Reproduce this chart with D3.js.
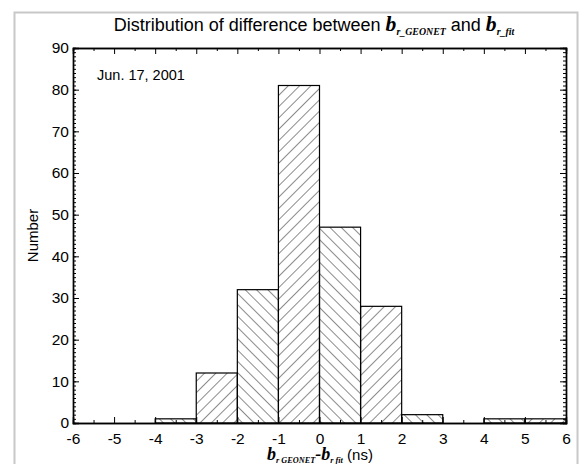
<!DOCTYPE html>
<html>
<head>
<meta charset="utf-8">
<script src="https://cdn.jsdelivr.net/npm/d3@7"></script>
<style>
  body { margin: 0; background: #fff; }
  svg { display: block; font-family: "Liberation Sans", Arial, sans-serif; }
  .axis path { stroke: #000; stroke-width: 1.4; }
  .axis line { stroke: #000; stroke-width: 1; }
  .axis text { font-size: 15.5px; fill: #000; font-family: "Liberation Sans", Arial, sans-serif; }
</style>
</head>
<body>
<svg id="chart" width="580" height="464"></svg>
<script>
// histogram bins (left edges, ns) and counts
var binStarts = [-6, -5, -4, -3, -2, -1, 0, 1, 2, 3, 4, 5];
var counts    = [ 0,  0,  1, 12, 32, 81, 47, 28,  2,  0,  1,  1];
var xTicks = [-6, -5, -4, -3, -2, -1, 0, 1, 2, 3, 4, 5, 6];
var yTicks = [0, 10, 20, 30, 40, 50, 60, 70, 80, 90];

var svg = d3.select('#chart');
var pLeft = 73, pRight = 566, pTop = 48, pBottom = 423;

// light grey frame round the figure
svg.append('rect')
  .attr('x', 14.5).attr('y', 12.5)
  .attr('width', 563).attr('height', 470)
  .attr('fill', 'none').attr('stroke', '#c8c8c8').attr('stroke-width', 2);

var x = d3.scaleLinear().domain([-6, 6]).range([pLeft, pRight]);
var y = d3.scaleLinear().domain([0, 90]).range([pBottom, pTop]);

// two hatch directions: 'up' = /, 'down' = \
var defs = svg.append('defs');
[['hatchUp', 45], ['hatchDown', -45]].forEach(function(p) {
  var pat = defs.append('pattern')
    .attr('id', p[0])
    .attr('patternUnits', 'userSpaceOnUse')
    .attr('width', 8).attr('height', 8)
    .attr('patternTransform', 'rotate(' + p[1] + ')');
  pat.append('line')
    .attr('x1', 0).attr('y1', 0).attr('x2', 0).attr('y2', 8)
    .attr('stroke', '#000').attr('stroke-width', 0.9);
});

svg.append('g').selectAll('rect')
  .data(binStarts)
  .enter().append('rect')
  .attr('x', function(d) { return x(d); })
  .attr('y', function(d, i) { return y(counts[i]); })
  .attr('width', function(d) { return x(d + 1) - x(d); })
  .attr('height', function(d, i) { return y(0) - y(counts[i]); })
  .attr('fill', function(d, i) { return i % 2 === 1 ? 'url(#hatchUp)' : 'url(#hatchDown)'; })
  .attr('stroke', '#000')
  .attr('stroke-width', function(d, i) { return counts[i] > 0 ? 1.2 : 0; });

var xMinor = d3.range(-5.5, 6, 1);
var yMinor = d3.range(0, 91, 1);
var plain = function(d) { return String(d); };

// bottom axis with labels, ticks inward
svg.append('g').attr('class', 'axis')
  .attr('transform', 'translate(0,' + pBottom + ')')
  .call(d3.axisBottom(x).tickValues(xTicks).tickSize(-6).tickPadding(10).tickFormat(plain));
svg.append('g').attr('class', 'axis')
  .attr('transform', 'translate(0,' + pBottom + ')')
  .call(d3.axisBottom(x).tickValues(xMinor).tickSize(-3).tickFormat(''));
// top axis
svg.append('g').attr('class', 'axis')
  .attr('transform', 'translate(0,' + pTop + ')')
  .call(d3.axisTop(x).tickValues(xTicks).tickSize(-6).tickFormat(''));
svg.append('g').attr('class', 'axis')
  .attr('transform', 'translate(0,' + pTop + ')')
  .call(d3.axisTop(x).tickValues(xMinor).tickSize(-3).tickFormat(''));
// left axis with labels
svg.append('g').attr('class', 'axis')
  .attr('transform', 'translate(' + pLeft + ',0)')
  .call(d3.axisLeft(y).tickValues(yTicks).tickSize(-6).tickPadding(4).tickFormat(plain));
svg.append('g').attr('class', 'axis')
  .attr('transform', 'translate(' + pLeft + ',0)')
  .call(d3.axisLeft(y).tickValues(yMinor).tickSize(-3).tickFormat(''));
// right axis
svg.append('g').attr('class', 'axis')
  .attr('transform', 'translate(' + pRight + ',0)')
  .call(d3.axisRight(y).tickValues(yTicks).tickSize(-6).tickFormat(''));
svg.append('g').attr('class', 'axis')
  .attr('transform', 'translate(' + pRight + ',0)')
  .call(d3.axisRight(y).tickValues(yMinor).tickSize(-3).tickFormat(''));

// text made of pieces: [text, kind]; kind 'b' = serif bold italic,
// 's' = small subscript, anything else = plain
function mixed(t, parts, size) {
  var shift = 0;
  parts.forEach(function(p) {
    var ts = t.append('tspan').text(p[0]);
    var want = p[1] === 's' ? size * 0.2 : 0;
    if (want !== shift) { ts.attr('dy', want - shift); shift = want; }
    if (p[1] === 'b') {
      ts.attr('font-family', '"Liberation Serif", serif')
        .attr('font-weight', 'bold').attr('font-style', 'italic')
        .attr('font-size', size * 1.2);
    } else if (p[1] === 's') {
      ts.attr('font-family', '"Liberation Serif", serif')
        .attr('font-weight', 'bold').attr('font-style', 'italic')
        .attr('font-size', size * 0.55);
    }
  });
}

var title = svg.append('text')
  .attr('x', 314).attr('y', 31)
  .attr('text-anchor', 'middle')
  .attr('font-size', 18);
mixed(title, [
  ['Distribution of difference between ', 'n'],
  ['b', 'b'], ['r_GEONET', 's'],
  [' and ', 'n'],
  ['b', 'b'], ['r_fit', 's']
], 18);

svg.append('text')
  .attr('x', 97).attr('y', 80)
  .attr('font-size', 14.5)
  .text('Jun. 17, 2001');

svg.append('text')
  .attr('transform', 'translate(38,' + ((pTop + pBottom) / 2) + ') rotate(-90)')
  .attr('text-anchor', 'middle')
  .attr('font-size', 15)
  .text('Number');

var xl = svg.append('text')
  .attr('x', 320).attr('y', 460)
  .attr('text-anchor', 'middle')
  .attr('font-size', 15);
mixed(xl, [
  ['b', 'b'], ['r GEONET', 's'],
  ['-', 'b'],
  ['b', 'b'], ['r fit', 's'],
  [' (ns)', 'n']
], 15);
</script>
</body>
</html>
